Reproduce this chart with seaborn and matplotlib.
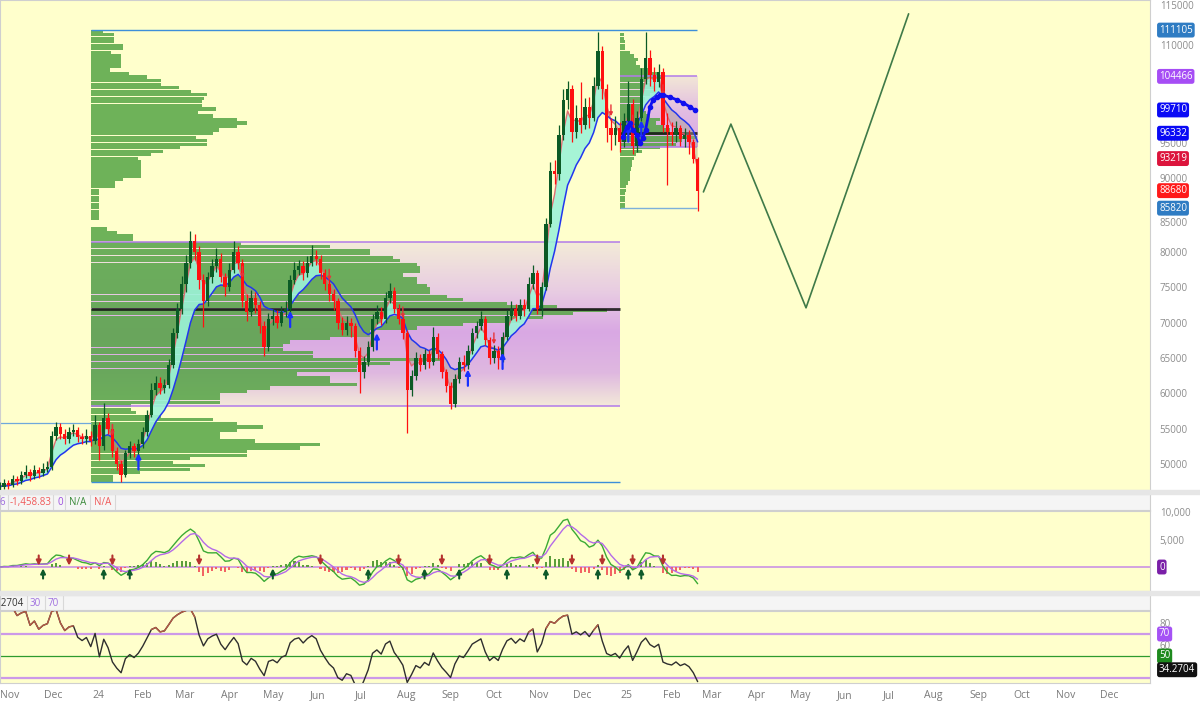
import numpy as np
import pandas as pd
import matplotlib
matplotlib.use("Agg")
import matplotlib.pyplot as plt
import matplotlib.transforms as mtransforms
from matplotlib.colors import LinearSegmentedColormap
from matplotlib.patches import Rectangle
import seaborn as sns

# ---------------- data (prices in thousands) ----------------
# 3-day candles starting 2023-10-25
first_open = 46.5
closes = [
    46.8, 47.3, 47.0, 47.9, 47.6, 48.4, 48.9, 48.3, 49.1, 48.7, 49.3, 49.6,
    54.0, 55.3, 54.2, 53.5, 54.5, 54.8, 53.8, 53.5, 54.0, 53.2,
    55.5, 52.5, 56.5, 55.0, 51.8, 50.0, 48.5, 51.5, 52.5, 51.8, 52.8, 54.5,
    57.0, 60.5, 61.5, 60.8, 61.2, 64.0, 68.5, 72.0, 75.5, 78.5, 81.5, 80.0,
    76.0, 73.0, 76.5, 78.0, 79.0, 76.5, 75.0, 77.5, 80.0, 78.5, 73.0, 71.5,
    73.5, 72.5, 69.5, 66.5, 70.5, 71.0, 70.0, 71.5, 72.0, 76.0, 77.5, 78.0,
    77.0, 78.5, 79.5, 79.0, 77.0, 75.5, 74.0, 73.0, 70.0, 69.0, 70.0, 69.5,
    66.0, 63.0, 64.5, 66.5, 70.5, 71.5, 70.5, 73.5, 74.5, 72.0, 70.5, 68.5,
    60.5, 62.5, 65.0, 64.0, 65.5, 64.5, 68.0, 65.5, 63.0, 61.0, 58.5, 62.0,
    64.5, 64.0, 66.0, 68.5, 69.5, 70.5, 67.5, 65.0, 66.0, 65.0, 68.0, 71.0,
    72.0, 71.0, 72.5, 72.0, 75.5, 77.0, 72.0, 75.0, 84.0, 91.5, 91.0, 96.5,
    101.5, 103.0, 97.0, 99.0, 98.0, 100.5, 99.0, 103.5, 108.5, 103.0, 97.5, 96.5,
    97.5, 95.5, 98.5, 101.0, 95.0, 99.0, 104.5, 107.5, 105.0, 104.0, 105.5, 98.0,
    97.0, 96.5, 97.5, 96.0, 96.5, 95.5, 93.2, 88.7,
]
highs = [
    47.4, 47.9, 47.8, 48.5, 48.3, 49.0, 49.8, 49.3, 49.9, 49.6, 50.2, 50.4,
    54.6, 56.0, 55.8, 54.9, 55.2, 55.6, 55.2, 54.4, 54.9, 54.6,
    57.0, 56.0, 58.6, 57.2, 55.6, 52.4, 50.6, 52.0, 53.3, 53.0, 53.5, 55.2,
    57.6, 61.4, 62.4, 62.3, 62.0, 64.8, 69.3, 72.8, 76.6, 79.6, 83.0, 82.6,
    80.8, 76.9, 77.2, 79.0, 80.5, 79.8, 77.0, 78.4, 81.6, 80.9, 79.0, 74.0,
    74.6, 74.4, 73.1, 70.2, 71.4, 72.0, 71.8, 72.3, 73.0, 76.8, 78.6, 78.9,
    78.7, 79.4, 81.0, 80.3, 79.6, 77.6, 76.2, 74.8, 73.5, 70.8, 70.9, 70.6,
    70.0, 66.6, 65.3, 67.4, 71.2, 72.5, 72.2, 74.3, 75.6, 75.0, 72.6, 71.0,
    69.0, 63.3, 65.8, 65.6, 66.3, 66.2, 69.4, 68.6, 66.0, 63.5, 61.6, 62.7,
    65.2, 65.4, 66.8, 69.2, 70.3, 71.6, 71.0, 68.0, 66.8, 66.7, 68.7, 71.8,
    73.0, 72.7, 73.4, 73.3, 76.4, 78.2, 77.5, 75.8, 84.8, 92.8, 93.0, 98.0,
    103.0, 104.2, 103.6, 100.8, 104.0, 101.8, 102.0, 104.8, 111.1, 109.2, 103.8, 99.0,
    99.2, 98.4, 99.6, 104.2, 101.6, 100.0, 106.0, 111.1, 108.6, 106.2, 106.6, 106.0,
    99.6, 98.4, 98.6, 98.0, 97.6, 97.2, 96.0, 93.4,
]
lows = [
    46.0, 46.4, 46.5, 46.7, 47.0, 47.2, 48.0, 47.6, 47.9, 48.0, 48.3, 48.8,
    49.2, 53.4, 53.5, 52.8, 53.0, 53.9, 53.1, 52.8, 52.9, 52.5,
    52.8, 50.5, 52.0, 54.2, 51.0, 49.2, 47.5, 48.1, 50.9, 51.0, 51.2, 52.3,
    54.0, 56.6, 59.8, 59.9, 60.0, 60.8, 63.6, 67.9, 71.2, 74.3, 77.8, 78.8,
    74.8, 69.4, 72.4, 75.6, 77.2, 75.7, 73.8, 74.5, 77.0, 77.6, 72.2, 70.3,
    70.9, 71.4, 68.6, 65.3, 66.0, 69.6, 69.2, 69.5, 70.8, 71.5, 75.4, 76.8,
    76.1, 76.5, 78.0, 78.2, 76.2, 74.6, 73.1, 71.8, 69.1, 68.2, 68.3, 68.0,
    65.2, 60.0, 62.2, 63.9, 66.0, 69.8, 69.6, 70.0, 72.8, 71.3, 69.8, 67.7,
    54.4, 59.6, 61.9, 63.1, 63.4, 63.6, 64.0, 64.8, 62.2, 60.2, 57.8, 58.0,
    61.5, 63.2, 63.5, 65.5, 67.9, 69.0, 66.8, 64.2, 64.3, 63.4, 64.5, 67.5,
    70.4, 70.2, 70.5, 71.0, 71.6, 74.8, 71.2, 71.0, 74.6, 83.5, 89.6, 90.2,
    95.8, 100.2, 95.6, 96.2, 96.8, 97.4, 97.6, 98.6, 103.0, 101.6, 95.5, 94.4,
    95.2, 94.2, 94.8, 97.6, 93.8, 94.2, 98.5, 103.8, 103.5, 102.8, 103.4, 97.0,
    89.5, 95.2, 95.6, 95.0, 94.8, 93.8, 92.6, 85.8,
]

# fixed-range volume profiles: relative volume per 0.5k bin, from the lowest bin up
vp_left_start = 47.5
vp_left = [
    22, 22, 49, 99, 114, 82, 99, 156, 156, 209, 229, 164, 129, 129, 146, 172,
    146, 122, 70, 45, 40, 40,
    129, 129, 129, 156, 179, 266, 239, 239, 206, 266, 266, 299, 349, 222, 222,
    192, 192, 199, 239, 279, 279, 326, 372, 429, 452, 482, 516, 466, 416, 372,
    356, 339, 339, 336, 326, 326, 312, 329, 329, 326, 309, 302, 279, 279, 239, 150,
    42, 42, 26, 16, 0, 0, 8, 8, 8, 8, 8, 8, 8, 8, 8, 24, 24, 32, 50, 50, 50, 50,
    50, 47, 60, 72, 89, 116, 116, 105, 122, 128, 146, 156, 146, 122, 107, 125,
    111, 111, 113, 116, 100, 88, 70, 70, 56, 38, 19, 30, 30, 30, 30, 20, 32, 32,
    23, 23, 23, 12,
]
vp_right_start = 86.0
vp_right = [
    5, 5, 5, 5, 5, 6, 6, 8, 10, 10, 10, 11, 12, 12, 14, 16, 22, 40, 56, 62, 77,
    60, 50, 44, 36, 40, 30, 26, 22, 20, 24, 25, 30, 36, 34, 30, 32, 45, 40, 30,
    20, 16, 18, 14, 10, 5, 5, 5, 4, 4,
]

# anchored VWAP-like dotted line in the last range
vwap_dates = ["2024-12-29", "2025-01-01", "2025-01-03", "2025-01-05", "2025-01-08",
              "2025-01-10", "2025-01-12", "2025-01-14", "2025-01-17", "2025-01-19",
              "2025-01-22", "2025-01-24", "2025-01-26", "2025-01-31", "2025-02-05",
              "2025-02-09", "2025-02-14", "2025-02-17"]
vwap_vals = [96.3, 97.7, 98.3, 97.3, 96.6, 95.4, 96.1, 97.3, 100.5, 101.5,
             101.9, 102.2, 102.2, 101.9, 101.5, 101.1, 100.5, 100.1]

# hand-drawn projection
proj_dates = ["2025-02-23", "2025-03-14", "2025-05-05", "2025-07-15"]
proj_prices = [88.5, 98.1, 72.1, 113.7]

month_starts = pd.date_range("2023-11-01", "2025-12-01", freq="MS")

# ---------------- layout helpers ----------------
T0 = pd.Timestamp("2024-01-01")
PX_PER_DAY = 1.445
X_LEFT = -67.8
X_RIGHT = X_LEFT + 1150 / PX_PER_DAY


def day(s):
    return (pd.Timestamp(s) - T0) / pd.Timedelta(days=1)


BG = "#FFFFCC"
W, H = 1200, 703

sns.set_style("white")
plt.rcParams["font.family"] = ["Open Sans", "DejaVu Sans"]

fig = plt.figure(figsize=(12, 7.03), dpi=100, facecolor="white")


def px_axes(top, bottom):
    return fig.add_axes([0, 1 - bottom / H, 1150 / W, (bottom - top) / H])


for y0, y1 in [(490, 494), (591, 595)]:
    fig.patches.append(Rectangle((0, 1 - y1 / H), 1, (y1 - y0) / H,
                                 transform=fig.transFigure, color="#E6E6E6", zorder=0))

ax = px_axes(0, 490)
ax_mh = px_axes(494, 510)
ax_m = px_axes(511, 591)
ax_rh = px_axes(595, 610)
ax_r = px_axes(611, 683)

for a in [ax, ax_m, ax_r]:
    a.set_facecolor(BG)
for a in [ax_mh, ax_rh]:
    a.set_facecolor("#F5F5F5")
    a.set_xticks([])
    a.set_yticks([])
    a.set_xlim(0, 1150)
    a.set_ylim(0, 1)
for a in [ax, ax_mh, ax_m, ax_rh, ax_r]:
    for sp in a.spines.values():
        sp.set_color("#CFCFCF")
        sp.set_linewidth(0.8)

# ---------------- main price panel ----------------
dates = pd.date_range("2023-10-25", periods=len(closes), freq="3D")
x = np.array([(d - T0).days for d in dates], dtype=float)
c = np.array(closes)
hi = np.array(highs)
lo = np.array(lows)
o = np.r_[first_open, c[:-1]]
s = pd.Series(c)

a_x0, c_x0, c_x1 = day("2023-12-27"), day("2024-12-27"), day("2025-02-18") + 0.5
b_low, b_high, b_poc = 58.2, 81.4, 71.93
c_low, c_high, c_poc = 94.86, 104.85, 96.8
rng_top, rng_bot, c_bot, left_lvl = 111.4, 47.45, 86.2, 55.8

va_cmap = LinearSegmentedColormap.from_list(
    "va", [(0, "#F3EBD8"), (0.3, "#E8CCE2"), (0.55, "#D9A8E4"), (0.8, "#DFB8E0"), (1, "#F3E9D9")])
vc_cmap = LinearSegmentedColormap.from_list(
    "vc", [(0, "#F2E7D6"), (0.5, "#E2BCE2"), (1, "#D8A7E4")])
grad = np.linspace(0, 1, 200)[:, None]
ax.imshow(grad, cmap=va_cmap, aspect="auto", origin="upper",
          extent=[a_x0, c_x0, b_low, b_high], zorder=0.5)
ax.imshow(grad, cmap=vc_cmap, aspect="auto", origin="upper",
          extent=[c_x0, c_x1, c_low, c_high], zorder=0.5)

vol_to_days = 1 / PX_PER_DAY
bins_l = vp_left_start + 0.5 * np.arange(len(vp_left))
ax.barh(bins_l + 0.25, np.array(vp_left) * vol_to_days, left=a_x0, height=0.46,
        color="#55A545", alpha=0.85, lw=0, zorder=1)
bins_r = vp_right_start + 0.5 * np.arange(len(vp_right))
ax.barh(bins_r + 0.25, np.array(vp_right) * vol_to_days, left=c_x0, height=0.46,
        color="#55A545", alpha=0.85, lw=0, zorder=1)

ax.hlines([b_high, b_low], a_x0, c_x0, color="#B27BEA", lw=1.1, zorder=1.5)
ax.hlines([c_high, c_low], c_x0, c_x1, color="#B27BEA", lw=1.1, zorder=1.5)
ax.hlines(b_poc, a_x0, c_x0, color="#111111", lw=2.0, alpha=0.85, zorder=1.6)
ax.hlines(c_poc, c_x0, c_x1, color="#111111", lw=2.0, alpha=0.85, zorder=1.6)
ax.hlines(rng_top, a_x0, c_x1, color="#3D8FD9", lw=1.0, zorder=1.5)
ax.hlines(rng_bot, a_x0, c_x0, color="#3D8FD9", lw=1.0, zorder=1.5)
ax.hlines(c_bot, c_x0, c_x1, color="#7DB0DA", lw=1.0, zorder=1.5)
ax.hlines(left_lvl, X_LEFT, a_x0, color="#6FA8DC", lw=0.9, zorder=1.5)

fast = s.ewm(span=3, adjust=False).mean()
slow = s.ewm(span=10, adjust=False).mean()
ax.fill_between(x, fast, slow, where=(fast >= slow), interpolate=True,
                color="#9CF3D8", alpha=0.9, lw=0, zorder=2)
ax.fill_between(x, fast, slow, where=(fast < slow), interpolate=True,
                color="#A8A08C", alpha=0.45, lw=0, zorder=2)
sns.lineplot(x=x, y=fast, ax=ax, color="#E0606A", linewidth=1.0, alpha=0.9, zorder=2.5)
sns.lineplot(x=x, y=slow, ax=ax, color="#2236EE", linewidth=1.1, zorder=2.5)

up = c >= o
col = np.where(up, "#0B5A25", "#FF1010")
ax.vlines(x, lo, hi, colors=col, lw=0.9, zorder=3)
body = np.maximum(np.abs(c - o), 0.2)
ax.bar(x, body, bottom=np.minimum(o, c), width=2.3, color=col, lw=0, zorder=3.1)

diff = (fast - slow).values
for i in range(1, len(diff)):
    if diff[i - 1] < 0 <= diff[i]:
        ax.annotate("", xy=(x[i], slow[i] - 0.7), xytext=(x[i], slow[i] - 3.0),
                    arrowprops=dict(arrowstyle="-|>", color="#1830FF", lw=1.6,
                                    mutation_scale=7, shrinkA=0, shrinkB=0), zorder=4)
    elif diff[i - 1] >= 0 > diff[i]:
        ax.annotate("", xy=(x[i], fast[i] + 0.6), xytext=(x[i], fast[i] + 2.2),
                    arrowprops=dict(arrowstyle="-|>", color="#E8333A", lw=1.0,
                                    mutation_scale=5, shrinkA=0, shrinkB=0), zorder=4)

vx = [day(d) for d in vwap_dates]
ax.plot(vx, vwap_vals, color="#1010F0", lw=2.0, marker="o", ms=3, zorder=4)

px = [day(d) for d in proj_dates]
sns.lineplot(x=px, y=proj_prices, ax=ax, color="#3F7A48", linewidth=1.2,
             sort=False, estimator=None, zorder=4)

ax.set_xlim(X_LEFT, X_RIGHT)
ax.set_ylim(50 - 26 / 7.067, 50 + 464 / 7.067)
ax.set_xticks([])
ax.yaxis.tick_right()
# 100000 and 105000 sit under the level tags
yt = [50, 55, 60, 65, 70, 75, 80, 85, 90, 95, 110, 115]
ax.set_yticks(yt)
ax.set_yticklabels([f"{v * 1000:.0f}" for v in yt])
ax.tick_params(axis="y", length=0, pad=7, labelsize=7, labelcolor="#8C8C8C")
# nudge the tick texts that sit next to a level tag (pixels, + is up)
nudge = {85: -5, 90: 3, 95: 3, 110: -5}
for v, lab in zip(yt, ax.get_yticklabels()):
    if v in nudge:
        shift = mtransforms.ScaledTranslation(0, nudge[v] / 100, fig.dpi_scale_trans)
        lab.set_transform(lab.get_transform() + shift)
ax.set_xlabel("")
ax.set_ylabel("")


def tag(axis, y, text, fc, tc="white"):
    axis.annotate(text, xy=(1, y), xycoords=("axes fraction", "data"),
                  xytext=(9, 0), textcoords="offset pixels", ha="left", va="center",
                  fontsize=7, color=tc, annotation_clip=False, zorder=10,
                  bbox=dict(boxstyle="round,pad=0.2,rounding_size=0.25", fc=fc, ec="none"))


tag(ax, rng_top, "111105", "#2F7CC3")
tag(ax, c_high, "104466", "#A64DF5")
tag(ax, vwap_vals[-1], "99710", "#0A0AF5")
tag(ax, c_poc, "96332", "#0A0AF5")
tag(ax, 93.219, "93219", "#DC143C")
tag(ax, 88.68, "88680", "#FF1A1A")
tag(ax, c_bot, "85820", "#2F7CC3")

# ---------------- MACD panel ----------------
ema_f = s.ewm(span=4, adjust=False).mean()
ema_s = s.ewm(span=10, adjust=False).mean()
macd = (ema_f - ema_s) * 1000
sig = macd.ewm(span=4, adjust=False).mean()
hist = macd - sig

ax_m.bar(x, hist, width=1.4, color=np.where(hist >= 0, "#5B9E3C", "#F26464"), lw=0, zorder=2)
ax_m.axhline(0, color="#C689E6", lw=1.1, zorder=1.5)
sns.lineplot(x=x, y=macd, ax=ax_m, color="#3BAA35", linewidth=1.0, zorder=3)
sns.lineplot(x=x, y=sig, ax=ax_m, color="#B46AE8", linewidth=1.0, zorder=3)
md = (macd - sig).values
for i in range(1, len(md)):
    if md[i - 1] < 0 <= md[i]:
        ax_m.annotate("", xy=(x[i], -250), xytext=(x[i], -2100),
                      arrowprops=dict(arrowstyle="-|>", color="#0E5A2A", lw=1.5,
                                      mutation_scale=7, shrinkA=0, shrinkB=0), zorder=4)
    elif md[i - 1] >= 0 > md[i]:
        ax_m.annotate("", xy=(x[i], 250), xytext=(x[i], 2100),
                      arrowprops=dict(arrowstyle="-|>", color="#B5322E", lw=1.5,
                                      mutation_scale=7, shrinkA=0, shrinkB=0), zorder=4)
ax_m.set_xlim(X_LEFT, X_RIGHT)
ax_m.set_ylim(-4360, 10180)
ax_m.set_xticks([])
ax_m.yaxis.tick_right()
ax_m.set_yticks([5000, 10000])
ax_m.set_yticklabels(["5,000", "10,000"])
ax_m.tick_params(axis="y", length=0, pad=7, labelsize=7, labelcolor="#8C8C8C")
ax_m.set_xlabel("")
ax_m.set_ylabel("")
tag(ax_m, 0, "0", "#7A1FA8")

# ---------------- RSI panel ----------------
delta = s.diff()
gain = delta.clip(lower=0).ewm(alpha=1 / 8, adjust=False).mean()
loss = (-delta.clip(upper=0)).ewm(alpha=1 / 8, adjust=False).mean()
rsi = 100 - 100 / (1 + gain / loss)

ax_r.axhline(70, color="#CC99E8", lw=1.6, zorder=1.5)
ax_r.axhline(30, color="#CC99E8", lw=1.6, zorder=1.5)
ax_r.axhline(50, color="#2E9B2E", lw=0.9, zorder=1.5)
sns.lineplot(x=x, y=rsi, ax=ax_r, color="#2E2E2E", linewidth=1.0, zorder=3)
ax_r.plot(x, np.where(rsi > 70, rsi, np.nan), color="#B45A44", lw=1.0, zorder=3.1)
ax_r.set_xlim(X_LEFT, X_RIGHT)
ax_r.set_ylim(80 - 60 / 1.1, 80 + 12 / 1.1)
ax_r.yaxis.tick_right()
ax_r.set_yticks([60, 80])
ax_r.tick_params(axis="y", length=0, pad=7, labelsize=7, labelcolor="#8C8C8C")
ax_r.set_xticks([(m - T0).days for m in month_starts])
ax_r.set_xticklabels([m.strftime("%y") if m.month == 1 else m.strftime("%b") for m in month_starts])
ax_r.tick_params(axis="x", length=0, pad=5, labelsize=7.5, labelcolor="#7A7A7A")
ax_r.set_xlabel("")
ax_r.set_ylabel("")
tag(ax_r, 70, "70", "#A552F5")
tag(ax_r, 50, "50", "#1E8A1E")
tag(ax_r, 37.5, "34.2704", "#111111")

# ---------------- header strips ----------------
def header(axis, items, edges):
    for e in edges:
        axis.axvline(e, color="#D8D8D8", lw=0.8)
    for xp, txt, colr, ha in items:
        axis.text(xp, 0.45, txt, ha=ha, va="center", fontsize=7, color=colr)


header(ax_mh, [(5, "6", "#9C6ADE", "right"), (10, "-1,458.83", "#F05A5A", "left"),
               (57, "0", "#9C4DDE", "left"), (69, "N/A", "#3A8A3A", "left"),
               (94, "N/A", "#F05A5A", "left")],
       [8, 53, 65, 90, 115])
header(ax_rh, [(24, "34.2704", "#333333", "right"), (30, "30", "#A070E0", "left"),
               (48, "70", "#A070E0", "left")],
       [27, 45, 63])

fig.savefig("out.png", dpi=100, facecolor=fig.get_facecolor())
